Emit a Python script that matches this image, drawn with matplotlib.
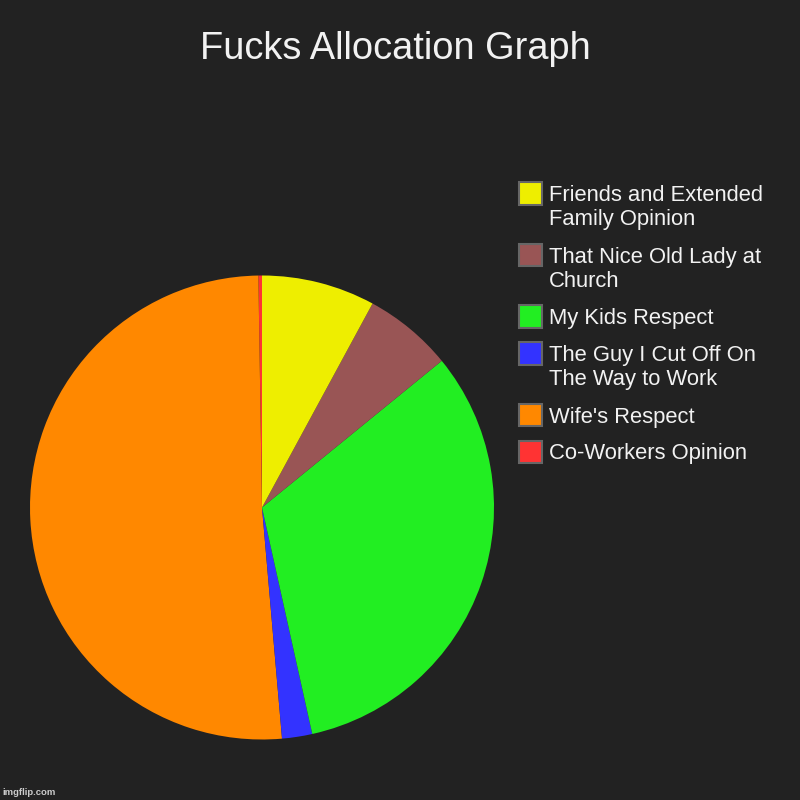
import matplotlib
matplotlib.use("Agg")
import matplotlib.pyplot as plt
from matplotlib.patches import Rectangle

plt.rcParams["font.family"] = ["Liberation Sans", "DejaVu Sans"]

# data, in drawing order (counter-clockwise from 12 o'clock)
labels = [
    "Co-Workers Opinion",
    "Wife's Respect",
    "The Guy I Cut Off On\nThe Way to Work",
    "My Kids Respect",
    "That Nice Old Lady at\nChurch",
    "Friends and Extended\nFamily Opinion",
]
shares = [0.25, 51.1, 2.1, 32.4, 6.2, 7.9]
colors = ["#ff3333", "#ff8800", "#3333ff", "#22ee22", "#995555", "#eeee00"]

BG = "#222222"
FG = "#f2f2f2"

fig = plt.figure(figsize=(8, 8), dpi=100, facecolor=BG)

# overlay in pixel coords for title / legend / watermark
ov = fig.add_axes([0, 0, 1, 1])
ov.set_xlim(0, 800)
ov.set_ylim(800, 0)
ov.axis("off")

ov.text(395, 59, "Fucks Allocation Graph", color=FG, fontsize=27.4,
        ha="center", va="baseline")
ov.text(2, 795, "imgflip.com", color="#cccccc", fontsize=6.8,
        fontweight="bold", ha="left", va="baseline")

# legend, reversed order like the original
y = 193
line_h = 24.5
gap = 12.5
for lab, col in zip(labels[::-1], colors[::-1]):
    ov.add_patch(Rectangle((519, y - 11), 22.5, 22.5, facecolor=col,
                           edgecolor="#666666", linewidth=1.5))
    lines = lab.split("\n")
    for k, ln in enumerate(lines):
        ov.text(549, y + 8 + k * line_h, ln, color=FG, fontsize=15.8,
                ha="left", va="baseline")
    y += len(lines) * line_h + gap

# pie, centre (262, 507.5), radius 232 px
cx, cy, r = 262, 507.5, 232
ax = fig.add_axes([(cx - r) / 800, (800 - cy - r) / 800, 2 * r / 800, 2 * r / 800])
ax.set_facecolor(BG)
ax.pie(shares, colors=colors, startangle=90, counterclock=True, radius=1,
       wedgeprops={"linewidth": 0})
ax.set_xlim(-1, 1)
ax.set_ylim(-1, 1)
ax.set_aspect("equal")
ax.axis("off")

fig.savefig("out.png", dpi=100, facecolor=BG)
